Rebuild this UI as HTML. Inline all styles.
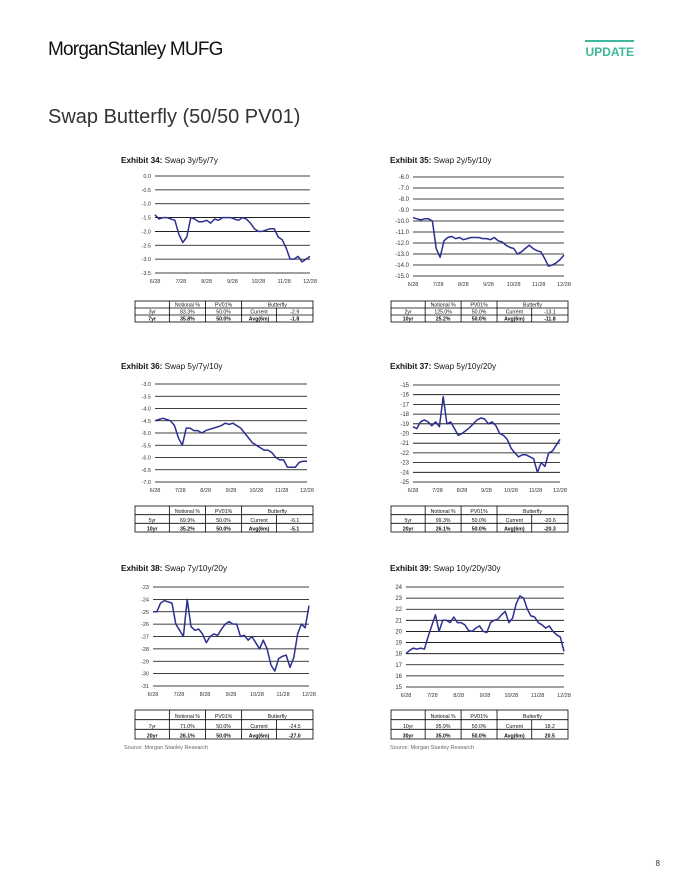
<!DOCTYPE html>
<html><head><meta charset="utf-8">
<style>
body{margin:0;background:#fff;}
#page{position:relative;width:680px;height:880px;overflow:hidden;font-family:"Liberation Sans",Arial,sans-serif;}
svg text{font-family:"Liberation Sans",Arial,sans-serif;}
</style></head>
<body>
<div id="page">
<svg id="svg" width="680" height="880" viewBox="0 0 680 880">
  <text x="48" y="55" font-size="19" fill="#111" letter-spacing="-0.8">MorganStanley MUFG</text>
  <rect x="585" y="40" width="49" height="2" fill="#3cb89a"/>
  <text x="634" y="56" font-size="12" font-weight="bold" fill="#3cb89a" text-anchor="end" letter-spacing="0">UPDATE</text>
  <text x="48" y="123" font-size="20" fill="#333">Swap Butterfly (50/50 PV01)</text>
  <text x="124" y="749" font-size="5.5" fill="#666">Source: Morgan Stanley Research</text>
  <text x="390" y="749" font-size="5.5" fill="#666">Source: Morgan Stanley Research</text>
  <text x="660" y="866" font-size="8" fill="#333" text-anchor="end">8</text>
</svg>
</div>
<script>
const xTicks = ["6/28","7/28","8/28","9/28","10/28","11/28","12/28"];
const s34 = [-1.4,-1.55,-1.5,-1.5,-1.55,-1.6,-2.1,-2.4,-2.2,-1.5,-1.55,-1.65,-1.65,-1.6,-1.7,-1.55,-1.6,-1.5,-1.5,-1.5,-1.55,-1.6,-1.5,-1.55,-1.7,-1.9,-2.0,-2.0,-1.95,-1.9,-1.9,-2.2,-2.3,-2.6,-3.0,-3.0,-2.9,-3.1,-3.0,-2.9];
const s35 = [-9.7,-9.8,-9.9,-9.8,-9.8,-10.0,-12.5,-13.3,-11.8,-11.5,-11.4,-11.6,-11.5,-11.7,-11.6,-11.5,-11.5,-11.5,-11.6,-11.6,-11.7,-11.5,-11.8,-11.9,-12.2,-12.4,-12.5,-13.0,-12.8,-12.5,-12.2,-12.5,-12.7,-12.8,-13.4,-14.1,-14.0,-13.8,-13.5,-13.1];
const s36 = [-4.5,-4.45,-4.4,-4.45,-4.5,-4.7,-5.2,-5.5,-4.8,-4.8,-4.9,-4.9,-5.0,-4.9,-4.85,-4.8,-4.75,-4.7,-4.6,-4.65,-4.6,-4.7,-4.8,-5.0,-5.2,-5.4,-5.5,-5.6,-5.7,-5.7,-5.8,-6.0,-6.1,-6.1,-6.4,-6.4,-6.4,-6.2,-6.15,-6.15];
const s37 = [-19.3,-19.5,-18.8,-18.6,-18.8,-19.2,-18.8,-19.3,-16.2,-19.0,-18.8,-19.5,-20.2,-20.0,-19.7,-19.4,-19.0,-18.6,-18.4,-18.5,-19.0,-18.8,-19.2,-20.0,-20.2,-20.6,-21.5,-22.0,-22.4,-22.2,-22.2,-22.4,-22.6,-24.0,-23.0,-23.4,-22.0,-21.8,-21.2,-20.6];
const s38 = [-25.0,-25.0,-24.3,-24.1,-24.2,-24.3,-26.0,-26.5,-27.0,-24.0,-26.2,-26.5,-26.4,-26.8,-27.5,-27.0,-26.8,-26.9,-26.4,-26.0,-25.8,-26.0,-26.0,-27.0,-26.9,-27.3,-27.0,-27.5,-28.0,-27.3,-28.0,-29.3,-29.8,-28.8,-28.6,-28.5,-29.5,-28.7,-26.8,-26.0,-26.3,-24.5];
const s39 = [18.0,18.3,18.5,18.4,18.5,18.4,19.5,20.5,21.5,20.0,21.0,21.0,20.8,21.3,20.8,20.8,20.6,20.1,20.0,20.3,20.5,20.0,19.9,20.8,21.0,21.1,21.5,21.8,20.8,21.2,22.5,23.2,23.0,22.0,21.4,21.3,20.8,20.6,20.3,20.5,20.0,19.7,19.5,18.2];
const tbl34 = [["3yr","83.3%","50.0%","Current","-2.9"],["7yr","35.8%","50.0%","Avg(6m)","-1.8"]];
const tbl35 = [["2yr","125.0%","50.0%","Current","-13.1"],["10yr","25.2%","50.0%","Avg(6m)","-11.8"]];
const tbl36 = [["5yr","69.9%","50.0%","Current","-6.1"],["10yr","35.2%","50.0%","Avg(6m)","-5.1"]];
const tbl37 = [["5yr","99.3%","50.0%","Current","-20.6"],["20yr","26.1%","50.0%","Avg(6m)","-20.3"]];
const tbl38 = [["7yr","71.0%","50.0%","Current","-24.5"],["20yr","26.1%","50.0%","Avg(6m)","-27.0"]];
const tbl39 = [["10yr","95.9%","50.0%","Current","18.2"],["30yr","35.0%","50.0%","Avg(6m)","20.5"]];

const NS="http://www.w3.org/2000/svg";
const svg=document.getElementById('svg');
function mk(tag,attrs,parent,txt){const e=document.createElementNS(NS,tag);for(const k in attrs)e.setAttribute(k,attrs[k]);if(txt!==undefined)e.textContent=txt;(parent||svg).appendChild(e);return e;}

function chart(c){
  const g=mk('g',{});
  
  
  const t=mk('text',{x:c.tx,y:c.ty,'font-size':8.2,fill:'#111'},g);
  
  
  mk('tspan',{'font-weight':'bold'},t,'Exhibit '+c.id+':');
  mk('tspan',{},t,'  '+c.title);
  const ys=v=>c.y0+(c.max-v)/(c.max-c.min)*(c.y1-c.y0);
  const xs=i=>c.x0+i*(c.x1-c.x0);
  const nt=Math.round((c.max-c.min)/c.step);
  for(let k=0;k<=nt;k++){
    const v=c.max-k*c.step, y=ys(v);
    const ln=mk('line',{x1:c.x0,x2:c.x1,y1:y,y2:y,stroke:'#000','stroke-width':0.8},g);
    
    
    const lb=mk('text',{x:c.x0-4,y:y+2,'font-size':c.fs||5.5,fill:'#333','text-anchor':'end'},g,v.toFixed(c.dec));
    
    
  }
  xTicks.forEach((s,i)=>{
    const xl=mk('text',{x:xs(i/(xTicks.length-1)),y:c.y1+10,'font-size':5.5,fill:'#333','text-anchor':'middle'},g,s);
    
    
  });
  const d=c.data.map((v,i)=>(i?'L':'M')+xs(i/(c.data.length-1)).toFixed(1)+','+ys(v).toFixed(1)).join('');
  const p=mk('path',{d:d,fill:'none',stroke:'#2b2f8f','stroke-width':1.5,'stroke-linejoin':'round'},g);
  
  
  const T=c.tb, cw=[0,0.193,0.396,0.599,0.795,1], W=T.x1-T.x0, rh=(T.y1-T.y0)/3;
  const tg=mk('g',{},g);
  
  
  mk('rect',{x:T.x0,y:T.y0,width:W,height:T.y1-T.y0,fill:'none',stroke:'#000','stroke-width':0.8},tg);
  for(let r=1;r<3;r++)mk('line',{x1:T.x0,x2:T.x1,y1:T.y0+r*rh,y2:T.y0+r*rh,stroke:'#000','stroke-width':0.8},tg);
  [1,2,3].forEach(k=>mk('line',{x1:T.x0+cw[k]*W,x2:T.x0+cw[k]*W,y1:T.y0,y2:T.y1,stroke:'#000','stroke-width':0.8},tg));
  mk('line',{x1:T.x0+cw[4]*W,x2:T.x0+cw[4]*W,y1:T.y0+rh,y2:T.y1,stroke:'#000','stroke-width':0.8},tg);
  const cx=k=>T.x0+(cw[k]+cw[k+1])/2*W;
  mk('text',{x:cx(1),y:T.y0+rh-1.5,'font-size':5.2,'text-anchor':'middle',fill:'#111'},tg,'Notional %');
  mk('text',{x:cx(2),y:T.y0+rh-1.5,'font-size':5.2,'text-anchor':'middle',fill:'#111'},tg,'PV01%');
  mk('text',{x:T.x0+(cw[3]+1)/2*W,y:T.y0+rh-1.5,'font-size':5.2,'text-anchor':'middle',fill:'#111'},tg,'Butterfly');
  c.rows.forEach((row,r)=>{
    row.forEach((s,k)=>mk('text',{x:cx(k),y:T.y0+(r+2)*rh-1.5,'font-size':5.2,'text-anchor':'middle',fill:'#111','font-weight':r==1?'bold':'normal'},tg,s));
  });
}
chart({id:34,title:'Swap 3y/5y/7y',tx:121,ty:163,x0:155,x1:310,y0:176,y1:273,max:0,min:-3.5,step:0.5,dec:1,data:s34,rows:tbl34,tb:{x0:135,x1:313,y0:301,y1:322}});
chart({id:35,title:'Swap 2y/5y/10y',tx:390,ty:163,x0:413,x1:564,y0:177,y1:276,max:-6,min:-15,step:1,dec:1,fs:6,data:s35,rows:tbl35,tb:{x0:391,x1:568,y0:301,y1:322}});
chart({id:36,title:'Swap 5y/7y/10y',tx:121,ty:369,x0:155,x1:307,y0:384,y1:482,max:-3,min:-7,step:0.5,dec:1,data:s36,rows:tbl36,tb:{x0:135,x1:313,y0:506,y1:532}});
chart({id:37,title:'Swap 5y/10y/20y',tx:390,ty:369,x0:413,x1:560,y0:385,y1:482,max:-15,min:-25,step:1,dec:0,fs:6,data:s37,rows:tbl37,tb:{x0:391,x1:568,y0:506,y1:532}});
chart({id:38,title:'Swap 7y/10y/20y',tx:121,ty:571,x0:153,x1:309,y0:587,y1:686,max:-23,min:-31,step:1,dec:0,data:s38,rows:tbl38,tb:{x0:135,x1:313,y0:710,y1:739}});
chart({id:39,title:'Swap 10y/20y/30y',tx:390,ty:571,x0:406,x1:564,y0:587,y1:687,max:24,min:15,step:1,dec:0,fs:6,data:s39,rows:tbl39,tb:{x0:391,x1:568,y0:710,y1:739}});
</script>
</body></html>
